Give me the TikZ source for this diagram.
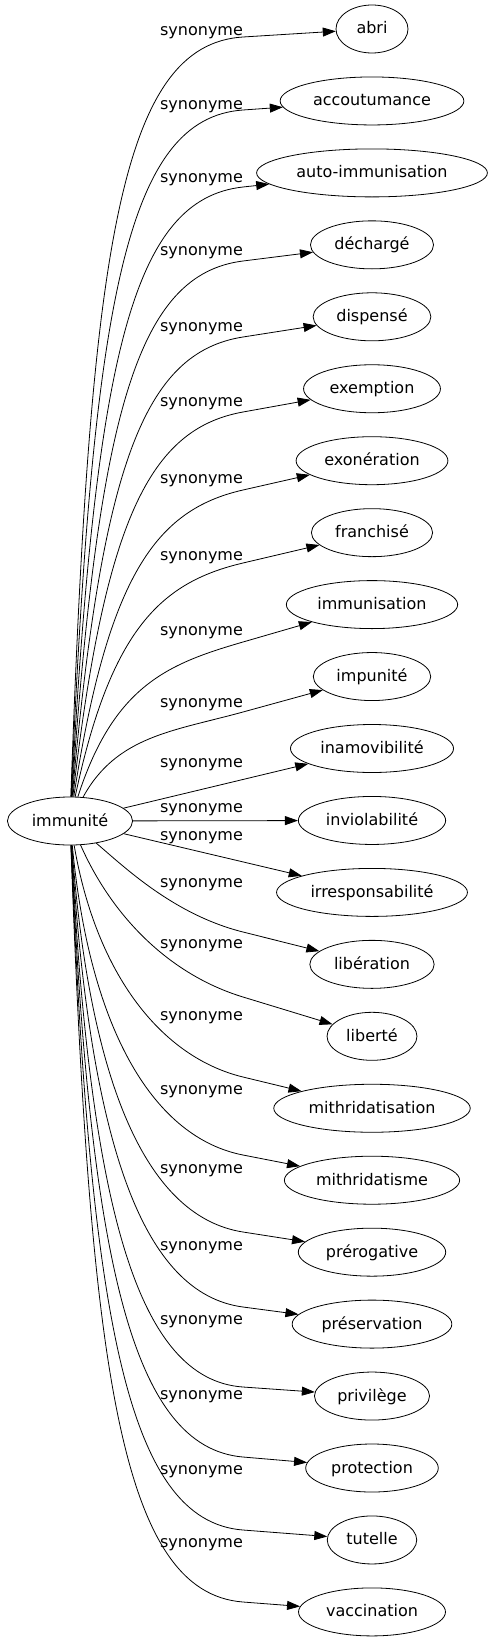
\documentclass[tikz,border=0pt]{standalone}
\usepackage{fontspec}
\setmainfont{DejaVu Sans}
\usepackage{tikz}
\usetikzlibrary{shapes.geometric}
\usetikzlibrary{arrows.meta}

\begin{document}
\begin{tikzpicture}[x=1pt,y=-1pt,
  font=\fontsize{16}{19}\selectfont,
  word/.style={ellipse,draw,line width=0.8pt,inner xsep=6pt,inner ysep=0pt,minimum width=72pt,minimum height=48pt,text height=13pt,text depth=3pt},
  syn/.style={line width=0.8pt,-{Triangle[length=13pt,width=9pt]}},
  rel/.style={inner sep=0pt}]
  \useasboundingbox (0,0) rectangle (489,1643);
  \node[word] (imm) at (70,821) {immunité};
  \foreach \w [count=\i from 0] in {abri,accoutumance,auto-immunisation,déchargé,dispensé,exemption,exonération,franchisé,immunisation,impunité,inamovibilité,inviolabilité,irresponsabilité,libération,liberté,mithridatisation,mithridatisme,prérogative,préservation,privilège,protection,tutelle,vaccination}
    \node[word] (n\i) at (372,{29+71.95*\i}) {\w};
  \foreach \l [count=\i from 0] in {33,107,180,253,329,404,481,558,633,705,765,810,838,885,946,1018,1092,1171,1248,1322,1397,1472,1545}
    \node[rel] (s\i) at (201.5,\l) {synonyme};
  \foreach \i/\e in {0/37,1/110,2/187,3/261,4/337,5/412,6/490,7/563,8/642,9/712} {
    \pgfmathsetmacro\yt{29+71.95*\i}
    \pgfmathsetmacro\hgt{797-\e}
    \pgfmathsetmacro\frc{1-\hgt/760}
    \pgfmathsetmacro\ax{90+30*\frc}
    \pgfmathsetmacro\ay{797-0.72*\hgt}
    \pgfmathsetmacro\dst{123-60*\frc}
    \pgfmathsetmacro\slp{(\yt-\e)/129}
    \pgfmathsetmacro\bx{243-\dst}
    \pgfmathsetmacro\by{\e-\dst*\slp}
    \draw[syn] (imm) .. controls (\ax,\ay) and (\bx,\by) .. (243,\e) -- (n\i);
  }
  \foreach \i in {10,11,12}
    \draw[syn] (imm) -- (n\i);
  \foreach \i/\e in {13/932,14/997,15/1077,16/1155,17/1232,18/1307,19/1387,20/1457,21/1530,22/1602} {
    \pgfmathsetmacro\yt{29+71.95*\i}
    \pgfmathsetmacro\hgt{\e-845}
    \pgfmathsetmacro\frc{1-\hgt/760}
    \pgfmathsetmacro\ax{90+50*max(0,1-\hgt/266)}
    \pgfmathsetmacro\ay{801+0.75*\hgt}
    \pgfmathsetmacro\dst{123-60*\frc}
    \pgfmathsetmacro\slp{(\yt-\e)/129}
    \pgfmathsetmacro\bx{243-\dst}
    \pgfmathsetmacro\by{\e-\dst*\slp}
    \draw[syn] (imm) .. controls (\ax,\ay) and (\bx,\by) .. (243,\e) -- (n\i);
  }
\end{tikzpicture}
\end{document}
